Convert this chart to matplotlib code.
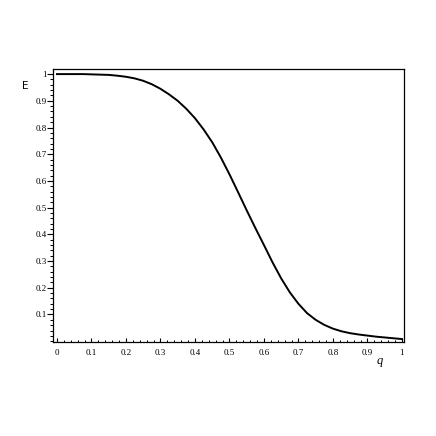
import numpy as np
import matplotlib
matplotlib.use('Agg')
import matplotlib.pyplot as plt
from matplotlib.ticker import MultipleLocator, FuncFormatter

# values
q = [0.0, 0.025, 0.05, 0.075, 0.1, 0.125, 0.15, 0.175, 0.2, 0.225,
     0.25, 0.275, 0.3, 0.325, 0.35, 0.375, 0.4, 0.425, 0.45, 0.475,
     0.5, 0.525, 0.55, 0.575, 0.6, 0.625, 0.65, 0.675, 0.7, 0.725,
     0.75, 0.775, 0.8, 0.825, 0.85, 0.875, 0.9, 0.925, 0.95, 0.975, 1.0]
E = [1.000, 1.000, 1.000, 1.000, 0.999, 0.998, 0.997, 0.994, 0.990, 0.984,
     0.975, 0.962, 0.945, 0.924, 0.900, 0.870, 0.835, 0.793, 0.745, 0.688,
     0.625, 0.558, 0.490, 0.424, 0.360, 0.295, 0.235, 0.183, 0.140, 0.105,
     0.080, 0.061, 0.047, 0.037, 0.030, 0.025, 0.021, 0.017, 0.014, 0.011, 0.008]

xticks = [0, 0.1, 0.2, 0.3, 0.4, 0.5, 0.6, 0.7, 0.8, 0.9, 1]
yticks = [0.1, 0.2, 0.3, 0.4, 0.5, 0.6, 0.7, 0.8, 0.9, 1]

def maple_fmt(v, pos=None):
    s = '%.1f' % v
    if s == '0.0':
        return '0'
    if s == '1.0':
        return '1'
    return s

fig = plt.figure(figsize=(4.36, 4.36), dpi=100)
ax = fig.add_axes([0.1227, 0.2156, 0.8039, 0.6261])

ax.plot(q, E, color='k', linewidth=1.4)

ax.set_xlim(-0.01, 1.006)
ax.set_ylim(-0.003, 1.019)

ax.set_xticks(xticks)
ax.set_yticks(yticks)
ax.xaxis.set_major_formatter(FuncFormatter(maple_fmt))
ax.yaxis.set_major_formatter(FuncFormatter(maple_fmt))
ax.xaxis.set_minor_locator(MultipleLocator(0.02))
ax.yaxis.set_minor_locator(MultipleLocator(0.02))

ax.tick_params(axis='x', which='both', direction='in', top=False, labelsize=6.5, pad=5)
ax.tick_params(axis='x', which='major', length=3, width=0.8)
ax.tick_params(axis='x', which='minor', length=1.5, width=0.7)
ax.tick_params(axis='y', which='both', direction='out', right=False, labelsize=6.5, pad=1)
ax.tick_params(axis='y', which='major', length=4, width=0.8)
ax.tick_params(axis='y', which='minor', length=2, width=0.7)

for lab in ax.get_xticklabels() + ax.get_yticklabels():
    lab.set_family('Liberation Serif')

for sp in ax.spines.values():
    sp.set_linewidth(0.9)

fig.text(25 / 436, 1 - 86 / 436, 'E', fontsize=7.5, family='DejaVu Sans',
         ha='center', va='center')
fig.text(380 / 436, 1 - 361 / 436, 'q', fontsize=9, family='Liberation Serif',
         style='italic', ha='center', va='center')

fig.savefig('out.png', dpi=100)
